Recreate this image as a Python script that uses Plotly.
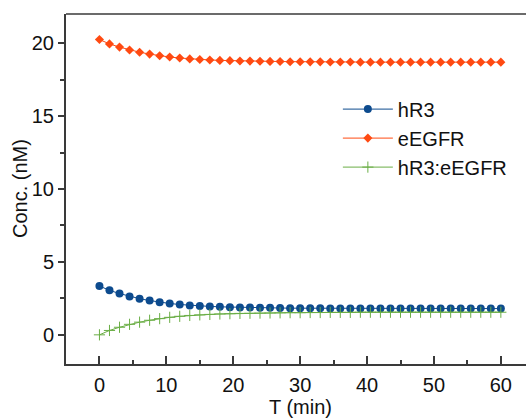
import plotly.graph_objects as go

T = [i * 1.5 for i in range(41)]

hR3 = [3.35, 3.05, 2.83, 2.63, 2.48, 2.35, 2.24, 2.15, 2.08, 2.02,
       1.98, 1.95, 1.92, 1.90, 1.88, 1.87, 1.86, 1.85, 1.84, 1.83,
       1.83, 1.82, 1.82, 1.81, 1.81, 1.81, 1.80, 1.80, 1.80, 1.80,
       1.80, 1.80, 1.80, 1.80, 1.80, 1.80, 1.80, 1.80, 1.80, 1.80, 1.80]

eEGFR = [20.25, 19.95, 19.73, 19.53, 19.38, 19.25, 19.14, 19.05, 18.98, 18.92,
         18.88, 18.85, 18.82, 18.80, 18.78, 18.77, 18.76, 18.75, 18.74, 18.73,
         18.73, 18.72, 18.72, 18.71, 18.71, 18.71, 18.70, 18.70, 18.70, 18.70,
         18.70, 18.70, 18.70, 18.70, 18.70, 18.70, 18.70, 18.70, 18.70, 18.70, 18.70]

complex_ = [0.00, 0.30, 0.52, 0.72, 0.87, 1.00, 1.11, 1.20, 1.27, 1.33,
            1.37, 1.40, 1.43, 1.45, 1.47, 1.48, 1.49, 1.50, 1.51, 1.52,
            1.52, 1.53, 1.53, 1.54, 1.54, 1.54, 1.55, 1.55, 1.55, 1.55,
            1.55, 1.55, 1.55, 1.55, 1.55, 1.55, 1.55, 1.55, 1.55, 1.55, 1.55]

names = ["hR3", "eEGFR", "hR3:eEGFR"]

FONT = "Liberation Sans, Arial, sans-serif"
FS = 20
AX = "#3a3a3a"

fig = go.Figure()
fig.add_trace(go.Scatter(x=T, y=hR3, name=names[0], mode="lines+markers",
                         legendgroup="a",
                         line=dict(color="#0d4b8e", width=1),
                         marker=dict(symbol="circle", size=8, color="#0d4b8e")))
fig.add_trace(go.Scatter(x=T, y=eEGFR, name=names[1], mode="lines+markers",
                         legendgroup="b",
                         line=dict(color="#ff4a12", width=1),
                         marker=dict(symbol="diamond", size=7, color="#ff4a12")))
fig.add_trace(go.Scatter(x=T, y=complex_, name=names[2], mode="lines+markers",
                         legendgroup="c",
                         line=dict(color="#6aae45", width=1),
                         marker=dict(symbol="cross-thin", size=8,
                                     line=dict(color="#6aae45", width=1))))

fig.update_layout(
    width=526, height=418,
    margin=dict(l=66, r=0, t=14, b=54),
    paper_bgcolor="white", plot_bgcolor="white",
    font=dict(family=FONT, size=FS, color="#111111"),
    showlegend=True,
    legend=dict(x=0.591, y=0.784, xanchor="left", yanchor="top",
                bgcolor="rgba(0,0,0,0)", font=dict(size=FS),
                itemwidth=50, tracegroupgap=0),
    xaxis=dict(range=[-5, 63.76], showgrid=False, zeroline=False,
               showline=True, linecolor=AX, linewidth=2,
               ticks="inside", ticklen=8, tickwidth=1.5, tickcolor=AX,
               tickmode="linear", tick0=0, dtick=10,
               minor=dict(ticks="inside", ticklen=4, tickwidth=1.5,
                          tickcolor=AX, dtick=5, tick0=0),
               ticklabelstandoff=2,
               tickfont=dict(size=FS)),
    yaxis=dict(range=[-2, 22], showgrid=False, zeroline=False,
               showline=True, linecolor=AX, linewidth=2,
               ticks="outside", ticklen=6, tickwidth=1.5, tickcolor=AX,
               tickmode="linear", tick0=0, dtick=5,
               minor=dict(ticks="outside", ticklen=4, tickwidth=1.5,
                          tickcolor=AX, dtick=2.5, tick0=0),
               tickfont=dict(size=FS)),
    shapes=[dict(type="line", xref="paper", yref="paper", x0=0, x1=1,
                 y0=1, y1=1, line=dict(color=AX, width=1.5))],
    annotations=[
        dict(text="T (min)", xref="paper", yref="paper", x=0.5087, y=-0.124,
             xanchor="center", yanchor="middle", showarrow=False,
             font=dict(size=FS)),
        dict(text="Conc. (nM)", xref="paper", yref="paper", x=-0.1, y=0.5,
             xanchor="center", yanchor="middle", showarrow=False,
             textangle=-90, font=dict(size=FS)),
    ],
)

fig.write_html("out.html")
